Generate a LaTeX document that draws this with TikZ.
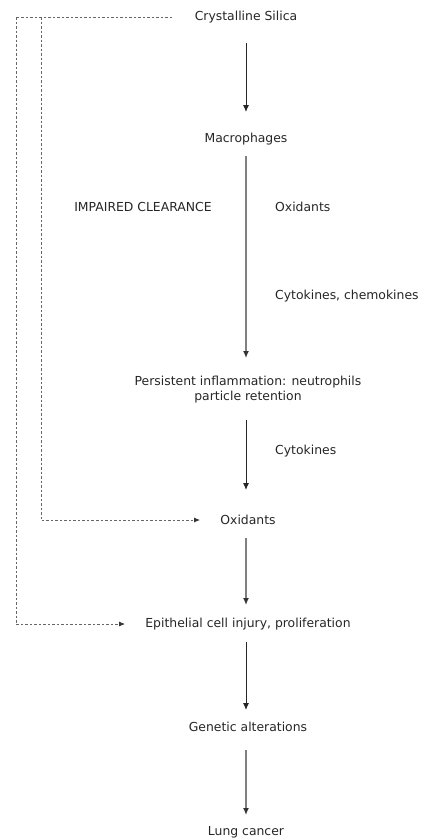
\documentclass[tikz,border=0pt]{standalone}
\usepackage{fontspec}
\setmainfont{DejaVu Sans}
\usetikzlibrary{arrows.meta}
\begin{document}
\begin{tikzpicture}[x=1pt,y=-1pt,
  lbl/.style={inner sep=0pt,font=\fontsize{12.4}{15}\selectfont,text=black!85},
  darr/.style={draw=black!85,line width=1pt,-{Latex[length=7pt,width=6pt]}},
  garr/.style={draw=black!50,line width=1.3pt,-{Latex[length=7pt,width=6pt,fill=black!80,color=black!80]}},
  dline/.style={draw=black!60,line width=0.8pt,dash pattern=on 2.5pt off 2pt},
  dlinearr/.style={dline,-{Latex[length=6pt,width=5pt,fill=black!80,color=black!80]}}]
\useasboundingbox (0,0) rectangle (421,839);
\node[lbl] (cs) at (246,17) {Crystalline Silica};
\node[lbl] (mac) at (246,139) {Macrophages};
\node[lbl] (imp) at (143,207) {IMPAIRED CLEARANCE};
\node[lbl,anchor=west] (ox1) at (275,207) {Oxidants};
\node[lbl,anchor=west] (cc) at (275,296) {Cytokines, chemokines};
\node[lbl,align=center] (pi) at (248,390) {Persistent inflammation: neutrophils\\particle retention};
\node[lbl,anchor=west] (cy) at (275,451) {Cytokines};
\node[lbl] (ox) at (248,520) {Oxidants};
\node[lbl] (epi) at (248,624) {Epithelial cell injury, proliferation};
\node[lbl] (gen) at (248,727) {Genetic alterations};
\node[lbl] (lc) at (246,832) {Lung cancer};
\coordinate (t1) at (16,17);
\coordinate (t2) at (41,17);
\coordinate (te) at (172,17);
\coordinate (oxe) at (200,520);
\coordinate (epe) at (125,624);
\draw[darr] (246,43) -- (246,112);
\draw[garr] (246,156) -- (246,358);
\draw[darr] (246,420) -- (246,490);
\draw[garr] (246,538) -- (246,605);
\draw[darr] (246,642) -- (246,710);
\draw[garr] (246,750) -- (246,815);
\draw[dline] (te) -- (t1);
\draw[dlinearr] (t1) |- (epe);
\draw[dlinearr] (t2) |- (oxe);
\end{tikzpicture}
\end{document}
